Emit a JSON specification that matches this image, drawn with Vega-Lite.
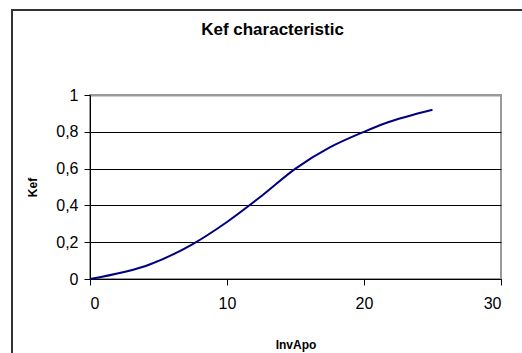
{
  "$schema": "https://vega.github.io/schema/vega-lite/v6.json",
  "width": 411,
  "height": 184,
  "autosize": {"type": "none"},
  "padding": {"left": 90, "top": 95, "right": 21, "bottom": 74},
  "background": "white",
  "config": {
    "locale": {"number": {"decimal": ",", "thousands": " ", "grouping": [3], "currency": ["", ""]}},
    "font": "Liberation Sans",
    "view": {"stroke": "#9a9a9a", "strokeWidth": 2}
  },
  "title": {
    "text": "Kef characteristic",
    "font": "Liberation Sans",
    "fontSize": 17,
    "fontWeight": "bold",
    "color": "black",
    "anchor": "middle",
    "frame": "group",
    "baseline": "alphabetic",
    "dx": -23,
    "offset": -43
  },
  "data": {
    "values": [
      {"InvApo": 0, "Kef": 0},
      {"InvApo": 4.4, "Kef": 0.08},
      {"InvApo": 7.5, "Kef": 0.19},
      {"InvApo": 10, "Kef": 0.31},
      {"InvApo": 12.5, "Kef": 0.45},
      {"InvApo": 15, "Kef": 0.6},
      {"InvApo": 17.5, "Kef": 0.715},
      {"InvApo": 20, "Kef": 0.8},
      {"InvApo": 21.5, "Kef": 0.845},
      {"InvApo": 25, "Kef": 0.92}
    ]
  },
  "layer": [
    {
      "data": {"values": [{"frame": "chart area"}]},
      "mark": {"type": "rect", "fill": null, "stroke": "#333333", "strokeWidth": 2, "clip": false},
      "encoding": {
        "x": {"value": -78},
        "x2": {"value": 450},
        "y": {"value": -85},
        "y2": {"value": 280}
      }
    },
    {
      "mark": {"type": "line", "color": "#000080", "strokeWidth": 2, "interpolate": "monotone"},
      "encoding": {
        "x": {
          "field": "InvApo",
          "type": "quantitative",
          "scale": {"domain": [0, 30], "nice": false},
          "axis": {
            "title": "InvApo",
            "values": [0, 10, 20, 30],
            "grid": false,
            "domainColor": "black",
            "domainWidth": 1,
            "tickColor": "black",
            "tickSize": 6,
            "labelFontSize": 16,
            "labelColor": "black",
            "labelPadding": 10,
            "titleFontSize": 12,
            "titleFontWeight": "bold",
            "titleColor": "black",
            "titlePadding": 28
          }
        },
        "y": {
          "field": "Kef",
          "type": "quantitative",
          "scale": {"domain": [0, 1], "nice": false},
          "axis": {
            "title": "Kef",
            "values": [0, 0.2, 0.4, 0.6, 0.8, 1],
            "format": ".1~f",
            "grid": true,
            "gridColor": {"condition": {"test": "datum.value >= 1", "value": "#9a9a9a"}, "value": "black"},
            "gridWidth": {"condition": {"test": "datum.value >= 1", "value": 2}, "value": 1},
            "domainColor": "black",
            "domainWidth": 1,
            "tickColor": "black",
            "tickSize": 6,
            "labelFontSize": 16,
            "labelColor": "black",
            "labelPadding": 6,
            "titleFontSize": 12,
            "titleFontWeight": "bold",
            "titleColor": "black",
            "titlePadding": 16
          }
        }
      }
    }
  ]
}
